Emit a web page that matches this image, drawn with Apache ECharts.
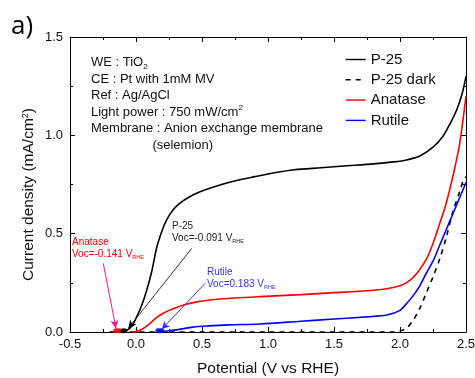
<!DOCTYPE html>
<html>
<head>
<meta charset="utf-8">
<script src="https://cdn.jsdelivr.net/npm/echarts@6/dist/echarts.min.js"></script>
<style>
  html, body { margin: 0; padding: 0; background: #fff; }
  #chart { width: 475px; height: 378px; }
</style>
</head>
<body>
<div id="chart"></div>
<script>
// values: [potential (V vs RHE), current density (mA/cm2)]
const p25 = [
  [-0.11, 0], [-0.07, 0.008], [-0.03, 0.03], [0.0, 0.07], [0.04, 0.13], [0.08, 0.21],
  [0.12, 0.31], [0.157, 0.43], [0.2, 0.52], [0.232, 0.57], [0.28, 0.62], [0.333, 0.655],
  [0.4, 0.685], [0.485, 0.713], [0.6, 0.74], [0.76, 0.77], [0.9, 0.79], [1.05, 0.81],
  [1.2, 0.825], [1.4, 0.835], [1.6, 0.845], [1.8, 0.855], [1.95, 0.865], [2.05, 0.875],
  [2.15, 0.895], [2.25, 0.94], [2.32, 0.99], [2.38, 1.06], [2.43, 1.13], [2.47, 1.21],
  [2.50, 1.30],
];
const p25Dark = [
  [-0.2, 0], [0.5, 0], [1.0, 0], [1.5, 0], [1.95, 0], [2.0, 0.005], [2.05, 0.02],
  [2.1, 0.06], [2.15, 0.12], [2.2, 0.2], [2.25, 0.28], [2.30, 0.37], [2.35, 0.48],
  [2.40, 0.61], [2.45, 0.71], [2.48, 0.77], [2.5, 0.79],
];
const anatase = [
  [-0.03, 0], [0.0, 0.002], [0.05, 0.015], [0.10, 0.04], [0.15, 0.07], [0.20, 0.093],
  [0.25, 0.11], [0.30, 0.123], [0.36, 0.137], [0.45, 0.152], [0.56, 0.163], [0.75, 0.173],
  [0.94, 0.18], [1.25, 0.19], [1.5, 0.20], [1.75, 0.21], [1.9, 0.22], [2.0, 0.235],
  [2.07, 0.26], [2.13, 0.30], [2.2, 0.37], [2.25, 0.45], [2.30, 0.55], [2.35, 0.655],
  [2.40, 0.79], [2.45, 0.95], [2.50, 1.20],
];
const rutile = [
  [0.17, 0], [0.25, 0.006], [0.35, 0.016], [0.43, 0.025], [0.55, 0.031], [0.7, 0.036],
  [0.94, 0.041], [1.25, 0.055], [1.5, 0.066], [1.75, 0.077], [1.9, 0.086],
  [2.0, 0.11], [2.05, 0.145], [2.1, 0.185], [2.15, 0.235], [2.2, 0.30], [2.25, 0.36],
  [2.30, 0.44], [2.35, 0.52], [2.40, 0.60], [2.45, 0.68], [2.50, 0.76],
];

// Voc markers sitting on the x axis
const vocAnatase = [[-0.155, 0.006], [-0.14, 0.006], [-0.125, 0.006]];
const vocP25 = [[-0.1, 0.006], [-0.085, 0.006]];
const vocRutile = [[0.165, 0.006], [0.18, 0.006], [0.195, 0.006]];

// arrows: [from, to]
const arrowAnatase = [[-0.248, 0.349], [-0.152, 0.019]];
const arrowP25 = [[0.422, 0.425], [-0.058, 0.019]];
const arrowRutile = [[0.523, 0.247], [0.195, 0.014]];

const legendNames = ['P-25', 'P-25 dark', 'Anatase', 'Rutile'];

const FONT = 'Liberation Sans, Arial, sans-serif';

const chart = echarts.init(document.getElementById('chart'));

function arrow(pts, color, width) {
  return {
    silent: true,
    symbol: ['none', 'arrow'],
    symbolSize: [6, 8],
    label: { show: false },
    lineStyle: { color, width, type: 'solid' },
    data: [[{ coord: pts[0] }, { coord: pts[1] }]],
  };
}

function dots(name, data, color, pts, lineColor, lineWidth) {
  return {
    name,
    type: 'scatter',
    data,
    symbolSize: 5,
    itemStyle: { color },
    z: 5,
    markLine: arrow(pts, lineColor, lineWidth),
  };
}

const hiddenAxis = {
  axisLine: { show: true, onZero: false, lineStyle: { color: '#000', width: 1 } },
  axisTick: { show: true, inside: true, length: 5, lineStyle: { color: '#000' } },
  minorTick: { show: true, splitNumber: 2, length: 3, lineStyle: { color: '#000' } },
  axisLabel: { show: false },
  splitLine: { show: false },
};

const option = {
  animation: false,
  grid: { left: 70, top: 37, right: 9, bottom: 46, outerBoundsMode: 'none', containLabel: false },
  xAxis: [{
    type: 'value',
    min: -0.5,
    max: 2.5,
    interval: 0.5,
    name: 'Potential (V vs RHE)',
    nameLocation: 'middle',
    nameGap: 29,
    nameTextStyle: { fontFamily: FONT, fontSize: 15.5, color: '#111' },
    axisLine: { onZero: false, lineStyle: { color: '#000', width: 1 } },
    axisTick: { inside: true, length: 5, lineStyle: { color: '#000' } },
    minorTick: { show: true, splitNumber: 2, length: 3, lineStyle: { color: '#000' } },
    axisLabel: {
      fontFamily: FONT, fontSize: 13, color: '#111', margin: 6,
      formatter: v => v.toFixed(1),
    },
    splitLine: { show: false },
  }, Object.assign({
    type: 'value', position: 'top', min: -0.5, max: 2.5, interval: 0.5,
  }, hiddenAxis)],
  yAxis: [{
    type: 'value',
    min: 0,
    max: 1.5,
    interval: 0.5,
    name: '{t|Current density (mA/cm}{sup|2}{t|)}',
    nameLocation: 'middle',
    nameGap: 33,
    nameMoveOverlap: false,
    nameTextStyle: {
      padding: [0, 20, 0, 0],
      rich: {
        t: { fontFamily: FONT, fontSize: 15.5, color: '#111' },
        sup: { fontFamily: FONT, fontSize: 9, color: '#111', verticalAlign: 'top' },
      },
    },
    axisLine: { show: true, onZero: false, lineStyle: { color: '#000', width: 1 } },
    axisTick: { show: true, inside: true, length: 5, lineStyle: { color: '#000' } },
    minorTick: { show: true, splitNumber: 2, length: 3, lineStyle: { color: '#000' } },
    axisLabel: {
      fontFamily: FONT, fontSize: 13, color: '#111', margin: 7,
      formatter: v => v.toFixed(1),
    },
    splitLine: { show: false },
  }, Object.assign({
    type: 'value', position: 'right', min: 0, max: 1.5, interval: 0.5,
  }, hiddenAxis)],
  legend: {
    data: legendNames,
    orient: 'vertical',
    left: 345,
    top: 52,
    padding: 0,
    itemWidth: 20,
    itemHeight: 14,
    itemGap: 5.3,
    itemStyle: { opacity: 0 },
    lineStyle: { width: 1.4 },
    textStyle: { fontFamily: FONT, fontSize: 15, color: '#111' },
  },
  series: [
    {
      name: 'P-25', type: 'line', data: p25, smooth: 0.3, showSymbol: false, symbol: 'none',
      lineStyle: { color: '#000', width: 1.6 }, itemStyle: { color: '#000' }, z: 4,
    },
    {
      name: 'P-25 dark', type: 'line', data: p25Dark, smooth: 0.3, showSymbol: false, symbol: 'none',
      lineStyle: { color: '#000', width: 1.6, type: [5, 5] }, itemStyle: { color: '#000' }, z: 3,
    },
    {
      name: 'Anatase', type: 'line', data: anatase, smooth: 0.3, showSymbol: false, symbol: 'none',
      lineStyle: { color: '#ff0000', width: 1.6 }, itemStyle: { color: '#ff0000' }, z: 3,
    },
    {
      name: 'Rutile', type: 'line', data: rutile, smooth: 0.3, showSymbol: false, symbol: 'none',
      lineStyle: { color: '#0000ff', width: 1.6 }, itemStyle: { color: '#0000ff' }, z: 3,
    },
    dots('vocAnatase', vocAnatase, '#ff0000', arrowAnatase, '#ff1493', 1),
    dots('vocP25', vocP25, '#000', arrowP25, '#000', 0.8),
    dots('vocRutile', vocRutile, '#0000ff', arrowRutile, '#3333ff', 1),
  ],
  graphic: [
    {
      type: 'text', left: 11, top: 14,
      style: { text: 'a)', font: '26px "Open Sans", sans-serif', fill: '#000' },
    },
    {
      type: 'text', left: 91, top: 56,
      style: {
        text: [
          '{t|WE : TiO}{sub|2}',
          '{t|CE : Pt with 1mM MV}',
          '{t|Ref : Ag/AgCl}',
          '{t|Light power : 750 mW/cm}{sup|2}',
          '{t|Membrane : Anion exchange membrane}',
          '{t|                 (selemion)}',
        ].join('\n'),
        rich: {
          t: { fontFamily: FONT, fontSize: 13, lineHeight: 16.5, fill: '#111' },
          sub: { fontFamily: FONT, fontSize: 8, lineHeight: 16.5, fill: '#111', verticalAlign: 'bottom' },
          sup: { fontFamily: FONT, fontSize: 8, lineHeight: 16.5, fill: '#111', verticalAlign: 'top' },
        },
      },
    },
    {
      type: 'text', left: 72, top: 237,
      style: {
        text: '{n|Anatase}\n{n|Voc=-0.141 V}{s|RHE}',
        rich: {
          n: { fontFamily: FONT, fontSize: 10, lineHeight: 12.5, fill: '#ff0000' },
          s: { fontFamily: FONT, fontSize: 5.5, lineHeight: 12.5, fill: '#ff0000', verticalAlign: 'bottom' },
        },
      },
    },
    {
      type: 'text', left: 172, top: 221,
      style: {
        text: '{n|P-25}\n{n|Voc=-0.091 V}{s|RHE}',
        rich: {
          n: { fontFamily: FONT, fontSize: 10, lineHeight: 12.5, fill: '#222' },
          s: { fontFamily: FONT, fontSize: 5.5, lineHeight: 12.5, fill: '#222', verticalAlign: 'bottom' },
        },
      },
    },
    {
      type: 'text', left: 207, top: 267,
      style: {
        text: '{n|Rutile}\n{n|Voc=0.183 V}{s|RHE}',
        rich: {
          n: { fontFamily: FONT, fontSize: 10, lineHeight: 12.5, fill: '#3333ff' },
          s: { fontFamily: FONT, fontSize: 5.5, lineHeight: 12.5, fill: '#3333ff', verticalAlign: 'bottom' },
        },
      },
    },
  ],
};

chart.setOption(option);
</script>
</body>
</html>
